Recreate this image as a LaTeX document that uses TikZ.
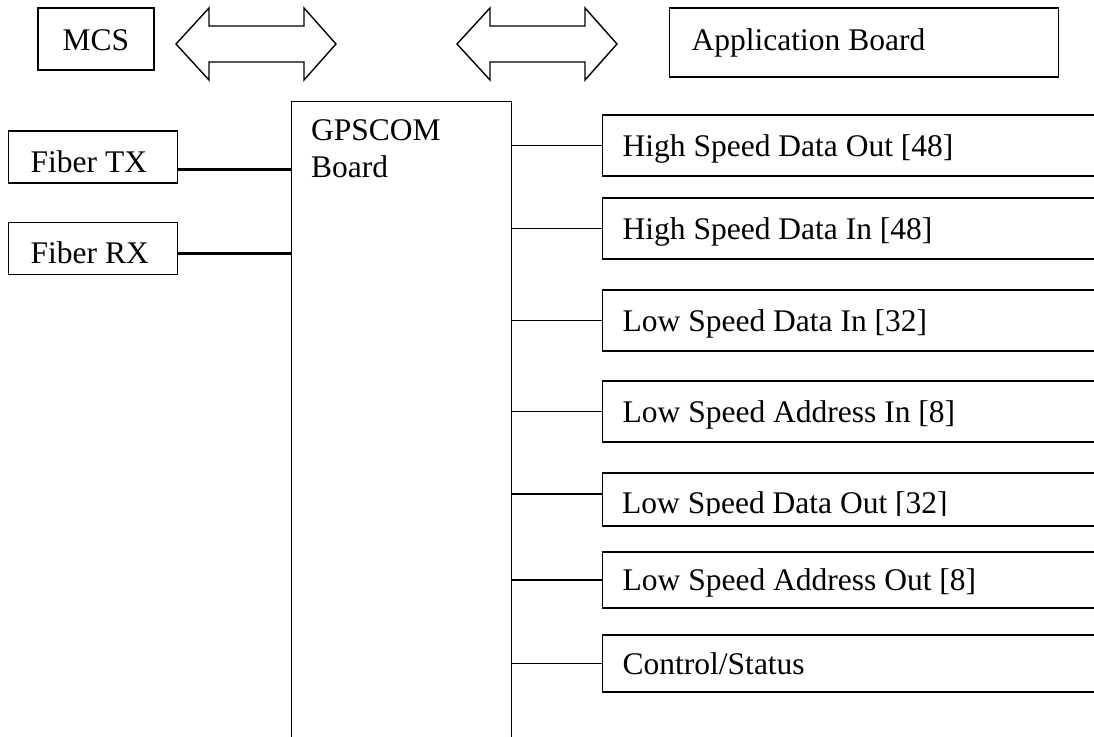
\documentclass[tikz,border=0pt]{standalone}
\usepackage{fontspec}
\setmainfont{Liberation Serif}
\usetikzlibrary{positioning}

\begin{document}
\begin{tikzpicture}[
    x=1pt, y=-1pt,
    every node/.style={font=\fontsize{31.5}{37}\selectfont, execute at begin node={\spaceskip=0pt\xspaceskip=0pt\relax}},
    box/.style={draw, line width=1.4pt, inner sep=0pt},
    sidebox/.style={box, minimum height=52pt, text width=125pt, inner xsep=22pt, text height=32pt, text depth=2pt},
    sigbox/.style={box, text width=468pt, inner xsep=20pt, text height=24pt, text depth=3pt},
    bus/.style={draw, line width=1.4pt, line join=miter},
    link/.style={line width=1.4pt},
    fiber/.style={line width=3pt}
]
\useasboundingbox (0,0) rectangle (1094,736);

% top row
\node[box, minimum width=116pt, minimum height=62pt, text height=24pt, text depth=2pt] (mcs) at (96,39) {MCS};
\node[box, anchor=west, minimum height=69pt, text width=345pt, inner xsep=22pt, text height=21pt, text depth=6pt] (app) at (669,42.5) {Application Board};
\foreach \bx in {176,457}
  \draw[bus] (\bx,44) -- ++(33,-36) -- ++(0,18) -- ++(95,0) -- ++(0,-18) -- ++(32,36)
    -- ++(-32,36) -- ++(0,-18) -- ++(-95,0) -- ++(0,18) -- cycle;

% board
\node[box, anchor=north west, minimum width=220pt, minimum height=660pt] (gps) at (291,101) {};
\node[anchor=north west, inner sep=0pt, align=left] (gpslabel) at (311,119) {GPSCOM\\Board};

% fiber side
\node[sidebox, anchor=west] (ftx) at (8,157) {Fiber TX};
\node[sidebox, anchor=west] (frx) at (8,248.5) {Fiber RX};
\coordinate (txend) at ([yshift=-12pt]ftx.east);
\coordinate (rxend) at ([yshift=-4.5pt]frx.east);
\draw[fiber] (txend) -- (txend -| gps.west);
\draw[fiber] (rxend) -- (rxend -| gps.west);

% signal side
\node[sigbox, anchor=west, minimum height=61pt] (hsdo) at (602,145.5) {High Speed Data Out [48]};
\node[sigbox, anchor=west, minimum height=61pt] (hsdi) at (602,228.5) {High Speed Data In [48]};
\node[sigbox, anchor=west, minimum height=61pt] (lsdi) at (602,320.5) {Low Speed Data In [32]};
\node[sigbox, anchor=west, minimum height=61pt] (lsai) at (602,411.5) {Low Speed Address In [8]};
\node[sigbox, anchor=west, minimum height=53pt] (lsdo) at (602,499.5) {};
\begin{scope}
  \clip (602,470) rectangle (1094,515);
  \node[anchor=base west, inner sep=0pt] (lsdotext) at (622,513) {Low Speed Data Out [32]};
\end{scope}
\node[sigbox, anchor=west, minimum height=56pt] (lsao) at (602,580) {Low Speed Address Out [8]};
\node[sigbox, anchor=west, minimum height=57pt] (cs) at (602,663.5) {Control/Status};

\coordinate (lsdoend) at ([yshift=5.5pt]lsdo.west);
\draw[link] (gps.east |- hsdo.west) -- (hsdo.west);
\draw[link] (gps.east |- hsdi.west) -- (hsdi.west);
\draw[link] (gps.east |- lsdi.west) -- (lsdi.west);
\draw[link] (gps.east |- lsai.west) -- (lsai.west);
\draw[link] (gps.east |- lsdoend) -- (lsdoend);
\draw[link] (gps.east |- lsao.west) -- (lsao.west);
\draw[link] (gps.east |- cs.west) -- (cs.west);
\end{tikzpicture}
\end{document}
